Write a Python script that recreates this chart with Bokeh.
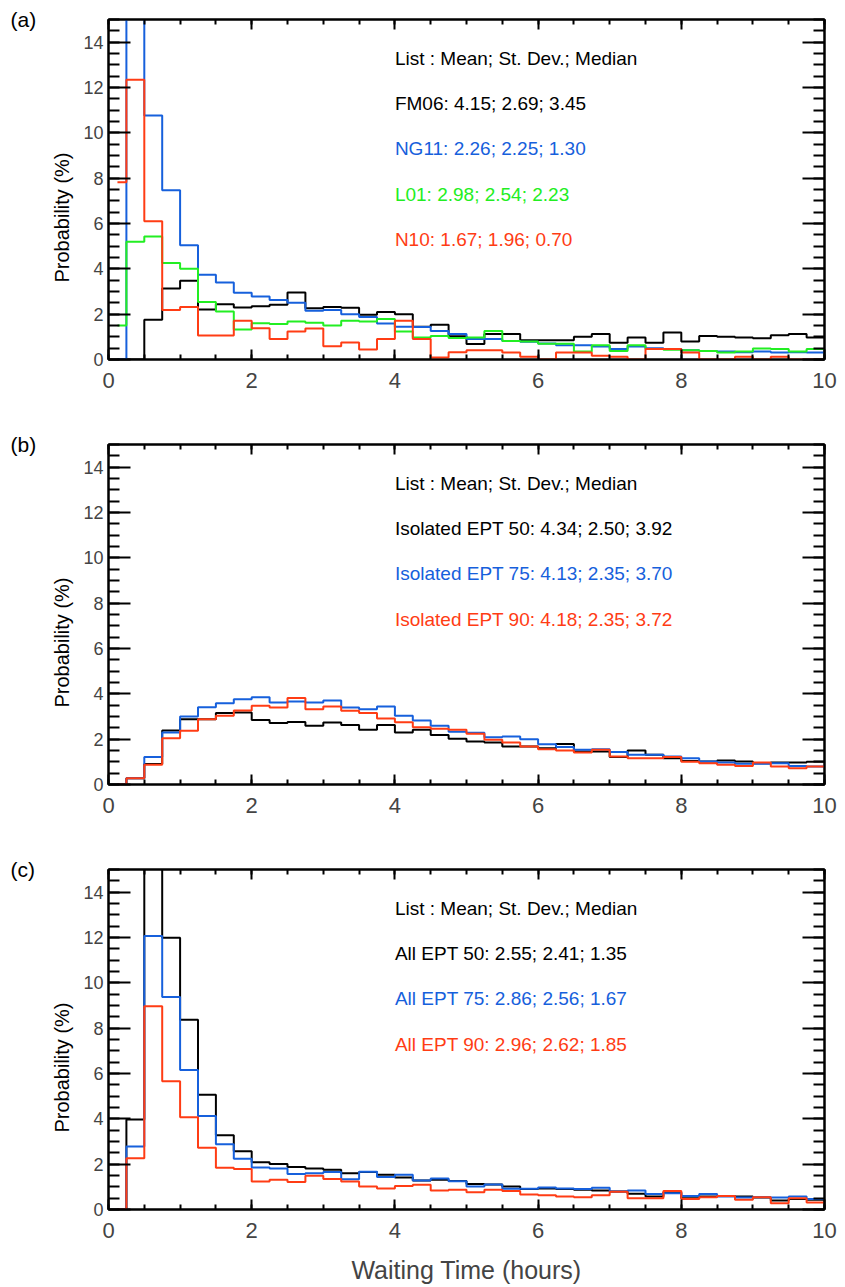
import numpy as np
from bokeh.plotting import figure
from bokeh.models import LinearAxis, SingleIntervalTicker, Range1d, Label
from bokeh.layouts import column, row
from bokeh.embed import file_html
from bokeh.resources import INLINE
from bokeh.core.properties import value

# ---------------- data (probability %, 0.25 h bins starting at 0) ----------------
bin_width = 0.25

a_fm06 = [0, 0, 1.75, 3.13, 3.47, 2.21, 2.44, 2.29, 2.35, 2.41, 2.96, 2.26, 2.32, 2.28, 1.97, 2.10,
          2.0, 1.45, 1.53, 1.03, 0.68, 1.12, 1.12, 0.85, 0.85, 0.85, 1.0, 1.12, 0.74, 0.97,
          0.74, 1.19, 0.79, 1.04, 1.0, 0.97, 0.94, 1.07, 1.12, 0.97]
a_ng11 = [0, 20.0, 10.76, 7.47, 5.04, 3.74, 3.40, 2.94, 2.78, 2.62, 2.5, 2.15, 2.18, 2.0, 1.88, 1.59,
          1.44, 1.43, 1.26, 1.12, 0.9, 0.9, 0.82, 0.78, 0.71, 0.63, 0.63, 0.57, 0.46, 0.57,
          0.5, 0.46, 0.41, 0.38, 0.35, 0.32, 0.35, 0.31, 0.32, 0.31]
a_l01 = [1.5, 5.2, 5.43, 4.26, 4.0, 2.54, 2.12, 1.32, 1.6, 1.57, 1.68, 1.62, 1.5, 1.71, 1.68, 1.79,
         1.24, 0.97, 1.04, 0.95, 0.97, 1.26, 0.82, 0.79, 0.7, 0.7, 0.35, 0.63, 0.38, 0.63,
         0.46, 0.43, 0.41, 0.38, 0.31, 0.35, 0.49, 0.46, 0.35, 0.46]
a_n10 = [7.82, 12.34, 6.1, 2.18, 2.32, 1.06, 1.06, 1.71, 1.38, 0.9, 1.24, 1.37, 0.59, 0.75, 0.44, 0.9,
         1.71, 0.9, 0.09, 0.32, 0.41, 0.41, 0.31, 0.12, 0.0, 0.31, 0.31, 0.16, 0.12, 0.0,
         0.46, 0.46, 0.31, 0.0, 0.0, 0.12, 0.0, 0.12, 0.0, 0.0]

b_iso50 = [0, 0.28, 0.9, 2.38, 2.88, 2.88, 3.15, 3.18, 2.85, 2.71, 2.76, 2.59, 2.74, 2.63, 2.41, 2.62,
           2.29, 2.41, 2.18, 2.02, 1.9, 1.85, 1.68, 1.68, 1.6, 1.79, 1.46, 1.46, 1.21, 1.5,
           1.31, 1.16, 1.04, 1.01, 1.06, 1.01, 0.94, 0.97, 0.97, 1.0]
b_iso75 = [0, 0.28, 1.21, 2.29, 3.0, 3.41, 3.59, 3.76, 3.85, 3.62, 3.66, 3.62, 3.71, 3.4, 3.32, 3.44,
           3.03, 2.82, 2.59, 2.33, 2.28, 2.09, 2.12, 2.0, 1.78, 1.65, 1.53, 1.56, 1.43, 1.31,
           1.31, 1.24, 1.16, 1.01, 0.97, 0.91, 0.91, 0.94, 0.82, 0.79]
b_iso90 = [0, 0.28, 0.87, 2.04, 2.37, 2.88, 3.03, 3.26, 3.47, 3.4, 3.82, 3.32, 3.44, 3.25, 3.15, 2.91,
           2.75, 2.53, 2.46, 2.42, 2.24, 1.97, 1.85, 1.68, 1.56, 1.5, 1.41, 1.53, 1.24, 1.16,
           1.16, 1.21, 1.0, 0.94, 0.87, 0.82, 0.97, 0.79, 0.72, 0.79]

c_all50 = [0, 3.97, 17.0, 11.99, 8.37, 5.06, 3.28, 2.57, 2.09, 2.01, 1.87, 1.81, 1.75, 1.6, 1.65, 1.53,
           1.41, 1.28, 1.31, 1.26, 1.13, 1.1, 1.01, 0.9, 0.93, 0.9, 0.87, 0.84, 0.79, 0.69,
           0.57, 0.76, 0.5, 0.57, 0.6, 0.57, 0.53, 0.4, 0.46, 0.43]
c_all75 = [0, 2.78, 12.07, 9.38, 6.15, 4.12, 2.88, 2.24, 1.85, 1.81, 1.57, 1.6, 1.65, 1.34, 1.66, 1.43,
           1.53, 1.28, 1.37, 1.25, 1.01, 1.1, 0.91, 0.91, 0.97, 0.93, 0.9, 0.96, 0.79, 0.84,
           0.68, 0.72, 0.6, 0.68, 0.57, 0.53, 0.54, 0.53, 0.57, 0.46]
c_all90 = [0, 2.26, 8.97, 5.66, 4.07, 2.72, 1.84, 1.79, 1.24, 1.31, 1.21, 1.49, 1.35, 1.24, 1.01, 0.93,
           1.04, 1.09, 0.84, 0.87, 0.76, 0.87, 0.82, 0.66, 0.63, 0.57, 0.54, 0.63, 0.78, 0.5,
           0.5, 0.82, 0.46, 0.54, 0.6, 0.43, 0.54, 0.28, 0.5, 0.31]

a_labels = ["List : Mean; St. Dev.; Median", "FM06: 4.15; 2.69; 3.45", "NG11: 2.26; 2.25; 1.30",
            "L01: 2.98; 2.54; 2.23", "N10: 1.67; 1.96; 0.70"]
b_labels = ["List : Mean; St. Dev.; Median", "Isolated EPT 50: 4.34; 2.50; 3.92",
            "Isolated EPT 75: 4.13; 2.35; 3.70", "Isolated EPT 90: 4.18; 2.35; 3.72"]
c_labels = ["List : Mean; St. Dev.; Median", "All EPT 50: 2.55; 2.41; 1.35",
            "All EPT 75: 2.86; 2.56; 1.67", "All EPT 90: 2.96; 2.62; 1.85"]
panel_tags = ["(a)", "(b)", "(c)"]
y_title = "Probability (%)"
x_title = "Waiting Time (hours)"

BLACK = "#000000"
BLUE = "#1660dc"
GREEN = "#22ee22"
RED = "#ff3c14"
FONT = "Liberation Sans"

SIDE_W = 76
FRAME_W, FRAME_H = 716, 340
TOPS = [19, 11, 11]
BOTTOMS = [74, 74, 72]


def step_xy(vals):
    xs, ys = [], []
    for k, v in enumerate(vals):
        left = max(bin_width / 2, k * bin_width)
        right = (k + 1) * bin_width
        xs += [left, right]
        ys += [v, v]
    return xs, ys


def make_panel(series, labels, top, bottom_border, bottom=False):
    p = figure(frame_width=FRAME_W, frame_height=FRAME_H,
               x_range=Range1d(0, 10), y_range=Range1d(0, 15),
               output_backend="svg", toolbar_location=None,
               x_axis_location=None, y_axis_location=None,
               min_border_left=108 - SIDE_W, min_border_right=13, min_border_top=top,
               min_border_bottom=bottom_border,
               background_fill_color="white", border_fill_color="white")
    p.grid.visible = False
    p.outline_line_color = BLACK
    p.outline_line_width = 2

    for side in ["below", "above"]:
        ax = LinearAxis(ticker=SingleIntervalTicker(interval=2, num_minor_ticks=4))
        ax.axis_line_width = 2
        ax.major_tick_line_width = 2
        ax.minor_tick_line_width = 2
        ax.major_tick_in = 10
        ax.major_tick_out = 0
        ax.minor_tick_in = 5
        ax.minor_tick_out = 0
        ax.major_label_text_font = FONT
        if side == "below":
            ax.major_label_text_font_size = "22px"
            ax.major_label_standoff = 13
            if bottom:
                ax.axis_label = x_title
                ax.axis_label_text_font = FONT
                ax.axis_label_text_font_size = "25px"
                ax.axis_label_text_font_style = "normal"
                ax.axis_label_standoff = 15
        else:
            ax.major_label_text_font_size = "0px"
            ax.major_label_standoff = 0
        p.add_layout(ax, side)

    for side in ["left", "right"]:
        ax = LinearAxis(ticker=SingleIntervalTicker(interval=2, num_minor_ticks=4))
        ax.axis_line_width = 2
        ax.major_tick_line_width = 2
        ax.minor_tick_line_width = 2
        ax.major_tick_in = 22
        ax.major_tick_out = 0
        ax.minor_tick_in = 11
        ax.minor_tick_out = 0
        ax.major_label_text_font = FONT
        if side == "left":
            ax.major_label_text_font_size = "18px"
            ax.major_label_standoff = 5
        else:
            ax.major_label_text_font_size = "0px"
            ax.major_label_standoff = 0
        p.add_layout(ax, side)

    for vals, color in series:
        xs, ys = step_xy(vals)
        p.line(xs, ys, line_color=color, line_width=2)

    colors = [BLACK] + [c for _, c in series]
    for i, txt in enumerate(labels):
        p.add_layout(Label(x=4.0, y=13.3 - 2.0 * i, text=txt, text_color=colors[i],
                           text_font=FONT, text_font_size="19px", text_baseline="middle"))
    return p


pa = make_panel([(a_fm06, BLACK), (a_ng11, BLUE), (a_l01, GREEN), (a_n10, RED)], a_labels,
                TOPS[0], BOTTOMS[0])
pb = make_panel([(b_iso50, BLACK), (b_iso75, BLUE), (b_iso90, RED)], b_labels, TOPS[1], BOTTOMS[1])
pc = make_panel([(c_all50, BLACK), (c_all75, BLUE), (c_all90, RED)], c_labels, TOPS[2], BOTTOMS[2],
                bottom=True)

# side strip holding the panel tags and the y-axis titles (pixel coordinates)
heights = [t + FRAME_H + b for t, b in zip(TOPS, BOTTOMS)]
total_h = sum(heights)
side = figure(width=SIDE_W, height=total_h, x_range=Range1d(0, SIDE_W), y_range=Range1d(0, total_h),
              output_backend="svg", toolbar_location=None, x_axis_location=None,
              y_axis_location=None, min_border=0, background_fill_color="white",
              border_fill_color="white")
side.grid.visible = False
side.outline_line_color = None
tag_x, tag_y, yt_x, yt_y = [], [], [], []
offset = 0
for t, h in zip(TOPS, heights):
    frame_top = offset + t
    tag_x.append(10)
    tag_y.append(total_h - frame_top)
    yt_x.append(61)
    yt_y.append(total_h - (frame_top + FRAME_H / 2 + 28))
    offset += h
side.text(x=tag_x, y=tag_y, text=panel_tags, text_font=value(FONT), text_font_size="21px",
          text_baseline="middle", text_align="left", text_color=BLACK)
side.text(x=yt_x, y=yt_y, text=[y_title] * 3, angle=np.pi / 2, text_font=value(FONT),
          text_font_size="20px", text_baseline="middle", text_align="center", text_color=BLACK)

layout = row(side, column(pa, pb, pc, spacing=0), spacing=0)
open("out.html", "w").write(file_html(layout, INLINE))
